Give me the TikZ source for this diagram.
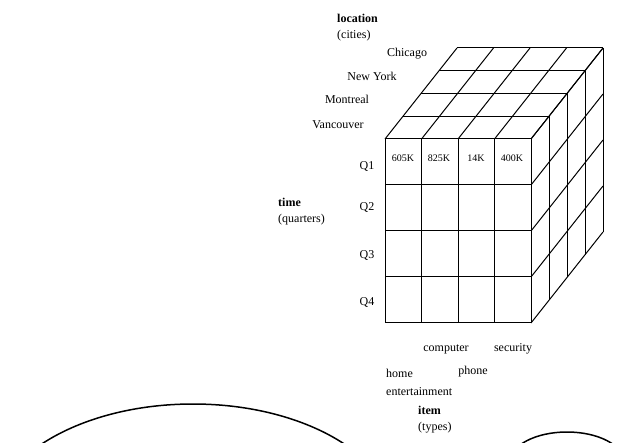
\documentclass[tikz,border=0pt]{standalone}
\usepackage{fontspec}
\setmainfont{Liberation Serif}
\begin{document}
\begin{tikzpicture}[x=1pt,y=-1pt,
  lab/.style={font=\fontsize{12}{13}\selectfont, inner sep=0pt},
  dimlab/.style={font=\fontsize{12}{16}\selectfont\bfseries, inner sep=0pt, align=left, anchor=west},
  val/.style={font=\fontsize{10}{11}\selectfont, inner sep=0pt},
  grid line/.style={line width=1pt, black},
  arcline/.style={line width=1.5pt, black}]
\useasboundingbox (0,0) rectangle (626,443);
\begin{scope}
\clip (0,0) rectangle (626,443);
% front face
\foreach \i in {0,...,4}{
  \draw[grid line] ({385+36.5*\i},139) -- ({385+36.5*\i},323);
  \draw[grid line] (385,{139+46*\i}) -- (531,{139+46*\i});
}
% top face
\foreach \k in {0,...,4}{
  \draw[grid line] ({385+18*\k},{139-22.75*\k}) -- ({531+18*\k},{139-22.75*\k});
  \draw[grid line] ({385+36.5*\k},139) -- ({385+36.5*\k+72},48);
}
% right face
\foreach \k in {0,...,4}{
  \draw[grid line] ({531+18*\k},{139-22.75*\k}) -- ({531+18*\k},{323-22.75*\k});
  \draw[grid line] (531,{139+46*\k}) -- (603,{48+46*\k});
}
% bottom arcs
\draw[arcline] (193,524) ellipse [x radius=203, y radius=120];
\draw[arcline] (567,462) ellipse [x radius=57, y radius=30];
\end{scope}
% labels
\node[dimlab] (loc) at (337,27.5) {location\\\mdseries(cities)};
\node[lab] (chi) at (407,54) {Chicago};
\node[lab] (ny) at (372,76) {New York};
\node[lab] (mon) at (347,99) {Montreal};
\node[lab] (van) at (338,125) {Vancouver};
\node[lab] (q1) at (367,167) {Q1};
\node[lab] (q2) at (367,208) {Q2};
\node[lab] (q3) at (367,256) {Q3};
\node[lab] (q4) at (367,303) {Q4};
\node[dimlab] (time) at (278,211.5) {time\\\mdseries(quarters)};
\node[val] (v1) at (403,158) {605K};
\node[val] (v2) at (439,158) {825K};
\node[val] (v3) at (476,158) {14K};
\node[val] (v4) at (512,158) {400K};
\node[lab] (comp) at (446,349) {computer};
\node[lab] (sec) at (513,349) {security};
\node[lab, anchor=west] (home) at (386,373) {home};
\node[lab] (phone) at (473,372) {phone};
\node[lab, anchor=west] (ent) at (386,392) {entertainment};
\node[dimlab] (item) at (418,419.5) {item\\\mdseries(types)};
\end{tikzpicture}
\end{document}
